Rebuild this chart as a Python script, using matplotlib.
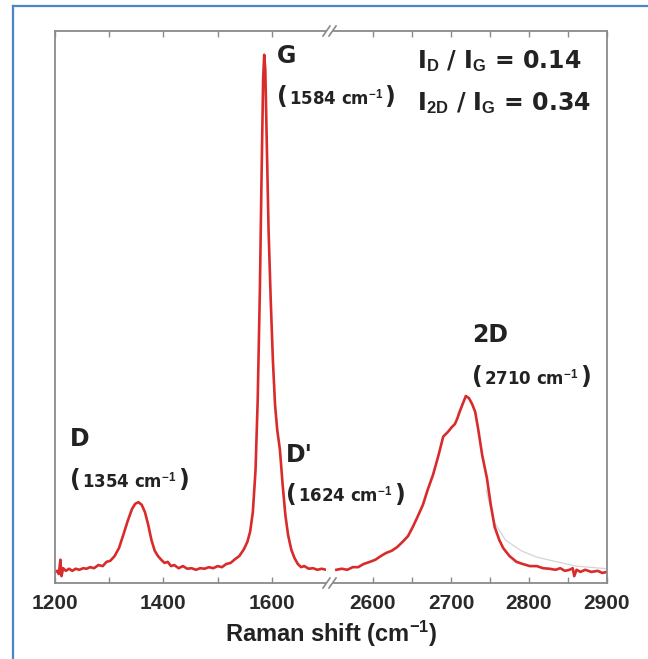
#!/usr/bin/env python3
"""Raman spectrum of the graphene film, broken shift axis (D/G/D' and 2D windows)."""

import matplotlib

matplotlib.use("Agg")
import matplotlib.pyplot as plt
from matplotlib.lines import Line2D
from matplotlib.offsetbox import AnnotationBbox, HPacker, TextArea

W, H = 648, 659

RED = "#d92b2b"
SPINE = "#8a8a8a"
TEXT = "#222222"
FRAME = "#4a86c8"
FIT = "#d4d4d4"

# low window: D, G and D' bands
LOW_SHIFT = [
    1200, 1204, 1207, 1210, 1212, 1215, 1220, 1226, 1232, 1238, 1245, 1252,
    1258, 1265, 1272, 1280, 1288, 1295, 1302, 1310, 1318, 1326, 1334, 1342,
    1348, 1354, 1360, 1366, 1372, 1378, 1384, 1390, 1396, 1402, 1408, 1414,
    1420, 1428, 1436, 1444, 1452, 1460, 1468, 1476, 1484, 1492, 1500, 1508,
    1516, 1524, 1532, 1540, 1548, 1555, 1560, 1565, 1570, 1574, 1578, 1581,
    1584, 1586, 1588, 1591, 1594, 1598, 1602, 1606, 1610, 1615, 1620, 1625,
    1630, 1636, 1642, 1648, 1654, 1660, 1668, 1676, 1684, 1692, 1700,
]
LOW_INTENSITY = [
    0.021, 0.023, 0.017, 0.044, 0.013, 0.028, 0.023, 0.027, 0.023, 0.027, 0.025, 0.028,
    0.027, 0.030, 0.028, 0.034, 0.032, 0.040, 0.042, 0.051, 0.066, 0.091, 0.117, 0.140,
    0.150, 0.153, 0.148, 0.134, 0.110, 0.081, 0.061, 0.051, 0.044, 0.038, 0.040, 0.032,
    0.034, 0.028, 0.032, 0.027, 0.028, 0.025, 0.028, 0.027, 0.030, 0.028, 0.032, 0.030,
    0.036, 0.038, 0.045, 0.051, 0.063, 0.078, 0.097, 0.134, 0.214, 0.347, 0.555, 0.763,
    0.953, 1.000, 0.972, 0.820, 0.669, 0.536, 0.422, 0.337, 0.290, 0.252, 0.186, 0.129,
    0.091, 0.063, 0.047, 0.036, 0.030, 0.032, 0.027, 0.028, 0.025, 0.027, 0.025,
]

# high window: 2D band
HIGH_SHIFT = [
    2553, 2560, 2567, 2574, 2581, 2588, 2596, 2603, 2610, 2617, 2624, 2631,
    2638, 2645, 2651, 2657, 2664, 2670, 2677, 2684, 2690, 2696, 2701, 2705,
    2708, 2711, 2715, 2719, 2723, 2727, 2731, 2735, 2740, 2746, 2751, 2756,
    2762, 2767, 2775, 2784, 2792, 2801, 2810, 2818, 2826, 2834, 2840, 2846,
    2852, 2856, 2858, 2861, 2866, 2872, 2880, 2888, 2894, 2900,
]
HIGH_INTENSITY = [
    0.025, 0.027, 0.025, 0.030, 0.030, 0.036, 0.040, 0.044, 0.051, 0.057, 0.061, 0.068,
    0.078, 0.089, 0.106, 0.125, 0.148, 0.176, 0.205, 0.242, 0.277, 0.286, 0.295, 0.301,
    0.311, 0.324, 0.339, 0.354, 0.350, 0.339, 0.324, 0.290, 0.242, 0.199, 0.148, 0.106,
    0.081, 0.066, 0.051, 0.040, 0.036, 0.032, 0.032, 0.028, 0.027, 0.025, 0.028, 0.023,
    0.025, 0.028, 0.013, 0.025, 0.021, 0.025, 0.021, 0.023, 0.019, 0.021,
]

# faint grey fit visible on the 2D tail
FIT_SHIFT = [2745, 2755, 2770, 2790, 2810, 2830, 2860, 2900]
FIT_INTENSITY = [0.176, 0.116, 0.081, 0.061, 0.049, 0.042, 0.032, 0.027]

LOW_TICKS = [1200, 1300, 1400, 1500, 1600]
LOW_TICK_LABELS = ["1200", "", "1400", "", "1600"]
HIGH_TICKS = [2600, 2650, 2700, 2750, 2800, 2850, 2900]
HIGH_TICK_LABELS = ["2600", "", "2700", "", "2800", "", "2900"]

BANDS = ["D", "G", "D'", "2D"]
BAND_POSITIONS = ["1354", "1584", "1624", "2710"]
RATIO_TEXT = [r"I$_{\mathbf{D}}$ / I$_{\mathbf{G}}$ = 0.14", r"I$_{\mathbf{2D}}$ / I$_{\mathbf{G}}$ = 0.34"]

YMAX = 1.045

plt.rcParams.update(
    {
        "mathtext.fontset": "custom",
        "mathtext.rm": "Liberation Sans",
        "mathtext.bf": "Liberation Sans:bold",
        "mathtext.it": "Liberation Sans:italic",
    }
)


def fx(px: float) -> float:
    return px / W


def fy(py: float) -> float:
    return 1 - py / H


def style_axis(ax, ticks, labels, xlim) -> None:
    ax.set_xlim(*xlim)
    ax.set_ylim(0, YMAX)
    ax.set_facecolor("none")
    ax.set_xticks(ticks, labels)
    ax.set_yticks([])
    ax.tick_params(axis="x", which="both", direction="in", top=True, length=4,
                   width=1.0, color=SPINE, pad=8, labelsize=15, labelcolor="#2a2a2a")
    for lab in ax.get_xticklabels():
        lab.set_family("Liberation Sans")
        lab.set_fontweight("bold")
    for spine in ax.spines.values():
        spine.set_color(SPINE)
        spine.set_linewidth(1.3)


def band_label(ax, x, y, name, shift) -> None:
    head = dict(fontsize=17, fontweight="bold", color=TEXT, family="DejaVu Sans")
    ax.text(x, y[0], name, ha="left", va="baseline", **head)
    small = dict(fontsize=12, fontweight="bold", color=TEXT, family="DejaVu Sans")
    box = HPacker(
        children=[
            TextArea("(", textprops=head),
            TextArea(shift + r" cm$^{\mathbf{-1}}$", textprops=small),
            TextArea(")", textprops=head),
        ],
        align="baseline",
        pad=0,
        sep=1,
    )
    ab = AnnotationBbox(box, (x, y[1]), xycoords="data", box_alignment=(0, 0.5),
                        frameon=False, pad=0, annotation_clip=False)
    ab.set_clip_on(False)
    ax.add_artist(ab)


def main() -> None:
    fig = plt.figure(figsize=(W / 100, H / 100), dpi=100)
    fig.patch.set_facecolor("white")

    top, bottom = 31, 583
    ax_lo = fig.add_axes([fx(55), fy(bottom), fx(326 - 55), (bottom - top) / H])
    ax_hi = fig.add_axes([fx(334), fy(bottom), fx(607 - 334), (bottom - top) / H])

    ax_lo.plot(LOW_SHIFT, LOW_INTENSITY, color=RED, lw=1.9, solid_joinstyle="round")
    ax_hi.plot(FIT_SHIFT, FIT_INTENSITY, color=FIT, lw=0.9, zorder=1)
    ax_hi.plot(HIGH_SHIFT, HIGH_INTENSITY, color=RED, lw=1.9, solid_joinstyle="round", zorder=2)

    style_axis(ax_lo, LOW_TICKS, LOW_TICK_LABELS, (1200, 1700))
    style_axis(ax_hi, HIGH_TICKS, HIGH_TICK_LABELS, (2550, 2900))
    ax_lo.spines["right"].set_visible(False)
    ax_hi.spines["left"].set_visible(False)

    # peak labels
    band_label(ax_lo, 1228, (0.260, 0.195), BANDS[0], BAND_POSITIONS[0])
    band_label(ax_lo, 1609, (0.984, 0.920), BANDS[1], BAND_POSITIONS[1])
    band_label(ax_lo, 1626, (0.230, 0.167), BANDS[2], BAND_POSITIONS[2])
    band_label(ax_hi, 2727, (0.457, 0.390), BANDS[3], BAND_POSITIONS[3])

    ratio = dict(fontsize=17, fontweight="bold", color=TEXT, family="DejaVu Sans",
                 ha="left", va="baseline")
    ax_hi.text(2657, 0.974, RATIO_TEXT[0], **ratio)
    ax_hi.text(2657, 0.895, RATIO_TEXT[1], **ratio)

    fig.text(fx(331), fy(634), r"Raman shift (cm$^{\mathbf{-1}}$)", ha="center", va="center",
             fontsize=17, fontweight="bold", family="Liberation Sans", color=TEXT)

    # axis break marks
    for ypx in (top, bottom):
        for x0 in (323, 329):
            fig.add_artist(Line2D([fx(x0), fx(x0 + 7)], [fy(ypx + 5), fy(ypx - 5)],
                                  transform=fig.transFigure, color=SPINE, lw=1.2))

    # outer blue frame
    fig.add_artist(Line2D([fx(13), fx(13)], [fy(6), 0], transform=fig.transFigure,
                          color=FRAME, lw=1.6))
    fig.add_artist(Line2D([fx(13), 1], [fy(6), fy(6)], transform=fig.transFigure,
                          color=FRAME, lw=1.6))

    fig.savefig("out.png", dpi=100)
    plt.close(fig)


if __name__ == "__main__":
    main()
